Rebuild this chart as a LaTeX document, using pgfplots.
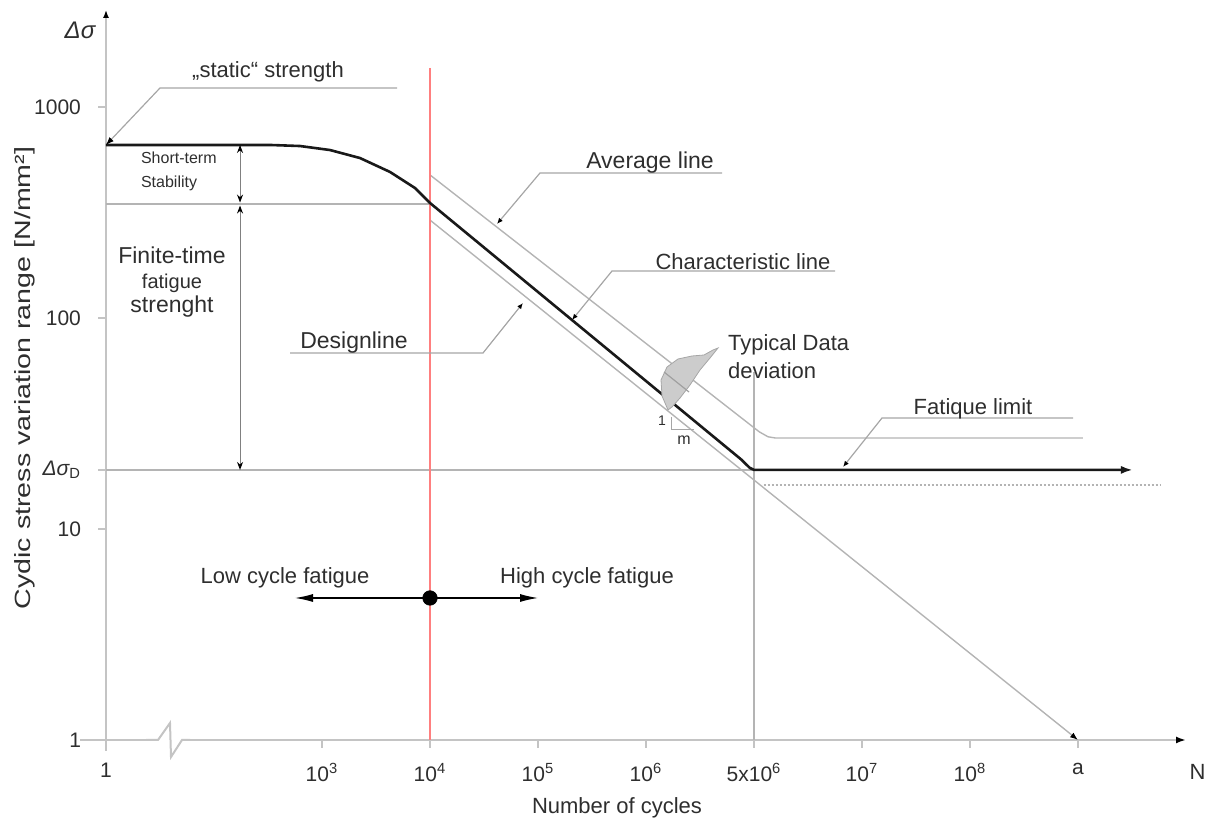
\documentclass[border=0pt]{standalone}
\usepackage{fontspec}
\setmainfont{Liberation Sans}
\usepackage{pgfplots}
\pgfplotsset{compat=1.18}
\usetikzlibrary{arrows.meta}
\definecolor{axisgray}{HTML}{C4C4C4}
\definecolor{linegray}{HTML}{B4B4B4}
\definecolor{leadgray}{HTML}{A6A6A6}
\definecolor{redline}{HTML}{FF7F7F}
\definecolor{txt}{HTML}{2E2E2E}
\begin{document}
\begin{tikzpicture}[font=\fontsize{11}{13}\selectfont, text=txt]
\begin{axis}[
  x=54pt, y=105.5pt,
  xmin=-0.24, xmax=10.0, ymin=-0.05, ymax=3.46,
  axis x line=middle, axis y line=middle,
  axis line style={draw=axisgray, line width=1pt},
  x axis line style={-{Latex[length=5pt,width=3.5pt,black]}},
  y axis line style={-{Latex[length=4pt,width=3pt,black]}},
  xtick={0,2,3,4,5,6,7,8,9},
  xticklabels={1,10\textsuperscript{3},10\textsuperscript{4},10\textsuperscript{5},10\textsuperscript{6},5x10\textsuperscript{6},10\textsuperscript{7},10\textsuperscript{8},a},
  ytick={0,1,1.28,2,3},
  yticklabels={1,10,{\itshape Δσ}\textsubscript{D},100,1000},
  tick align=outside, major tick length=4pt,
  tick style={draw=axisgray, line width=0.8pt},
  hide obscured x ticks=false, hide obscured y ticks=false,
  ticklabel style={font=\fontsize{10.5}{12}\selectfont, text=txt},
  xticklabel style={yshift=-4pt},
  yticklabel style={xshift=-5pt},
  clip=false,
]
% reference lines
\addplot[linegray, line width=0.7pt] coordinates {(0,2.54) (3,2.54)};
\addplot[linegray, line width=0.7pt] coordinates {(0,1.28) (6,1.28)};
\addplot[linegray, line width=0.7pt] coordinates {(6,1.744) (6,0)};
% average line
\addplot[linegray, line width=0.7pt] coordinates {(3.0,2.678) (6.05,1.46) (6.13,1.437) (6.2,1.431) (9.046,1.431)};
% design line
\addplot[linegray, line width=0.7pt, -{Latex[length=4pt,width=3pt,black]}] coordinates {(3.0,2.464) (9.0,0.0)};
\addplot[linegray, line width=1.1pt, dash pattern=on 1pt off 1pt] coordinates {(6.09,1.209) (9.759,1.209)};
% red line
\addplot[redline, line width=0.9pt] coordinates {(3,3.185) (3,0)};
% characteristic line
\addplot[black!90, line width=1.3pt, -{Latex[length=6pt,width=4pt]}] coordinates {(0,2.820) (1.519,2.820) (1.796,2.815) (2.074,2.796) (2.352,2.758) (2.630,2.692) (2.861,2.616) (3.0,2.545) (5.88,1.33) (5.96,1.29) (6.0,1.28) (9.509,1.28)};
% dimension arrows
\addplot[gray, line width=0.5pt, {Stealth[length=4pt,width=3pt,black]}-{Stealth[length=4pt,width=3pt,black]}] coordinates {(1.241,2.82) (1.241,2.547)};
\addplot[gray, line width=0.5pt, {Stealth[length=4pt,width=3pt,black]}-{Stealth[length=4pt,width=3pt,black]}] coordinates {(1.241,2.533) (1.241,1.28)};
% low / high cycle
\addplot[black, line width=0.6pt, {Latex[length=9pt,width=4pt]}-{Latex[length=9pt,width=4pt]}] coordinates {(1.75,0.673) (4.0,0.673)};
\addplot[only marks, mark=*, mark size=3.6pt, black] coordinates {(3,0.673)};
\coordinate (bl) at (axis cs:-0.98148,-0.38389);
\coordinate (tr) at (axis cs:10.2037,3.50711);
\end{axis}
\begin{scope}[shift={(bl |- tr)}, x=0.5pt, y=-0.5pt]
% axis break
\fill[white] (148,733) rectangle (188,747);
\draw[axisgray, line width=1pt] (146,740) -- (158,740) -- (170,723) -- (171,757) -- (182,740) -- (190,740);
% leaders
\draw[leadgray, line width=0.6pt, {Latex[length=4pt,width=3pt,black]}-] (106,145) -- (160,88) -- (397,88);
\draw[leadgray, line width=0.6pt, {Latex[length=3pt,width=2.5pt,black]}-] (497,224) -- (540,173) -- (722,173);
\draw[leadgray, line width=0.6pt, {Latex[length=3pt,width=2.5pt,black]}-] (572,320) -- (612,271) -- (835,271);
\draw[leadgray, line width=0.6pt, {Latex[length=3pt,width=2.5pt,black]}-] (523,303) -- (483,353) -- (290,353);
\draw[leadgray, line width=0.6pt, {Latex[length=3pt,width=2.5pt,black]}-] (843,467) -- (882,418) -- (1073,418);
% typical data deviation shape
\fill[gray!40, draw=gray!70, line width=0.4pt] (668,410) -- (662,396) -- (661,380) -- (667,367) -- (678,359) -- (692,356) -- (704,355) -- (713,350) -- (718,348) -- (710,358) -- (700,370) -- (690,385) -- (680,398) -- (672,407) -- cycle;
\draw[gray!75, line width=0.6pt] (664,372) -- (689,392);
\draw[leadgray, line width=0.5pt] (671,417) -- (671,430) -- (694,430);
\node[font=\fontsize{7}{8}\selectfont] at (662,421) {1};
\node[font=\fontsize{8}{9}\selectfont] at (684,440) {m};
% texts
\node[font=\fontsize{12}{14}\selectfont] at (80,30) {\itshape Δσ};
\node at (268,72) {„static“ strength};
\node[anchor=west, font=\fontsize{8}{9}\selectfont] at (134,158) {Short-term};
\node[anchor=west, font=\fontsize{8}{9}\selectfont] at (134,183) {Stability};
\node[font=\fontsize{11.5}{13}\selectfont] at (172,255) {Finite-time};
\node[font=\fontsize{10}{12}\selectfont] at (172,283) {fatigue};
\node[font=\fontsize{11.5}{13}\selectfont] at (172,307) {strenght};
\node[font=\fontsize{11.5}{13}\selectfont] at (650,163) {Average line};
\node at (743,262) {Characteristic line};
\node[font=\fontsize{11.5}{13}\selectfont] at (354,343) {Designline};
\node[anchor=west] at (721,345) {Typical Data};
\node[anchor=west] at (721,371) {deviation};
\node at (973,409) {Fatique limit};
\node at (285,578) {Low cycle fatigue};
\node at (587,578) {High cycle fatigue};
\node at (617,808) {Number of cycles};
\node[anchor=east, inner sep=0.5pt] at (1207,772) {N};
\node[rotate=90] at (25,378) {\scalebox{1.3}[1]{\fontsize{11}{13}\selectfont Cydic stress variation range [N/mm²]}};
\end{scope}
\pgfresetboundingbox
\path[use as bounding box] (bl) rectangle (tr);
\end{tikzpicture}
\end{document}
